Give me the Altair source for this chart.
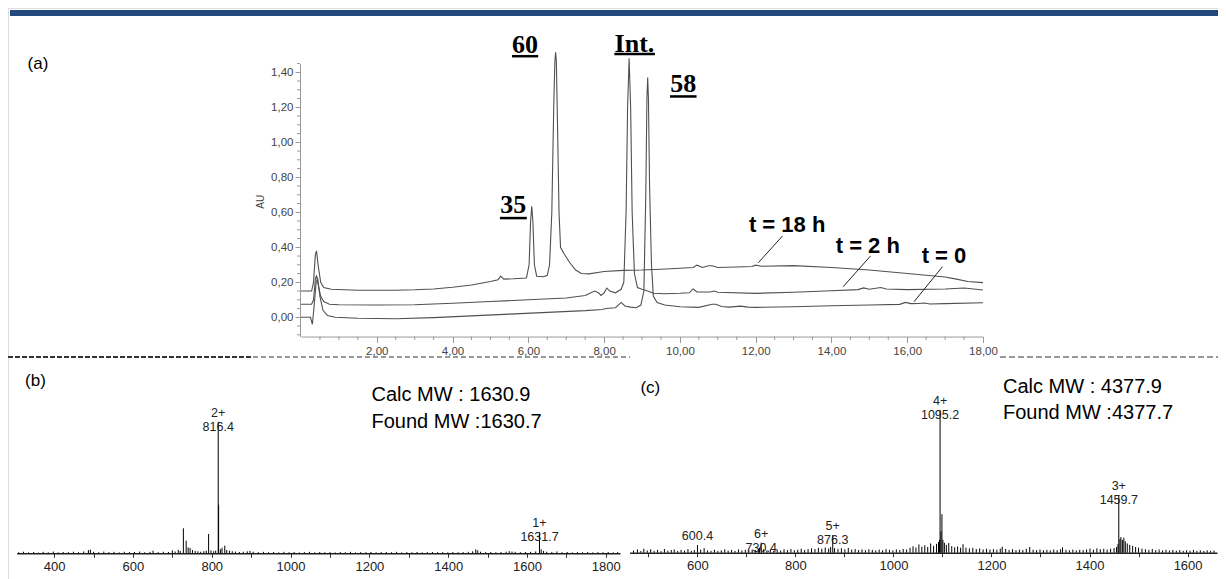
import altair as alt
import pandas as pd

# ---------------- HPLC traces: retention time (min) / absorbance (AU) ----------------
t0_t = [0.0, 0.25, 0.30, 0.34, 0.40, 0.44, 0.50, 0.58, 0.70, 0.90, 1.5, 2.5, 3.5, 4.5, 5.5, 6.5, 7.5,
        7.95, 8.05, 8.3, 8.45, 8.55, 8.7, 8.85, 8.97, 9.05, 9.10, 9.13, 9.15, 9.17, 9.20, 9.25, 9.30,
        9.40, 9.6, 10.0, 10.5, 10.85, 10.95, 11.1, 11.3, 11.6, 11.8, 12.0, 13.0, 14.0, 15.0, 15.8,
        15.95, 16.1, 16.3, 16.45, 16.6, 17.0, 18.0]
t0_v = [0.0, 0.0, -0.04, 0.05, 0.20, 0.22, 0.12, 0.04, 0.01, 0.0, -0.005, -0.008, -0.002, 0.008,
        0.018, 0.028, 0.038, 0.045, 0.05, 0.055, 0.085, 0.065, 0.058, 0.055, 0.07, 0.15, 0.7, 1.25,
        1.37, 1.25, 0.75, 0.3, 0.12, 0.085, 0.07, 0.06, 0.057, 0.075, 0.075, 0.062, 0.058, 0.064,
        0.058, 0.057, 0.06, 0.066, 0.07, 0.074, 0.085, 0.078, 0.079, 0.082, 0.076, 0.078, 0.083]

t2_t = [0.0, 0.28, 0.33, 0.38, 0.41, 0.46, 0.52, 0.60, 0.75, 1.0, 2.0, 3.0, 4.0, 5.0, 6.0, 7.0, 7.5,
        7.75, 7.85, 7.92, 8.0, 8.07, 8.15, 8.3, 8.45, 8.52, 8.58, 8.62, 8.66, 8.70, 8.74, 8.80, 8.88,
        9.0, 9.15, 9.3, 9.6, 10.0, 10.25, 10.35, 10.45, 10.8, 10.9, 11.0, 12.0, 13.0, 14.0, 14.7,
        14.85, 15.0, 15.3, 15.45, 16.0, 17.0, 17.5, 18.0]
t2_v = [0.075, 0.075, 0.10, 0.22, 0.24, 0.18, 0.12, 0.09, 0.075, 0.072, 0.07, 0.072, 0.08, 0.09,
        0.10, 0.11, 0.125, 0.15, 0.14, 0.125, 0.14, 0.167, 0.15, 0.14, 0.16, 0.2, 0.6, 1.2, 1.48,
        1.2, 0.6, 0.25, 0.17, 0.16, 0.15, 0.137, 0.135, 0.137, 0.14, 0.162, 0.145, 0.145, 0.15,
        0.143, 0.137, 0.143, 0.152, 0.158, 0.168, 0.16, 0.17, 0.162, 0.158, 0.162, 0.167, 0.156]

t18_t = [0.0, 0.28, 0.33, 0.38, 0.41, 0.45, 0.52, 0.60, 0.8, 1.5, 2.5, 3.0, 3.5, 4.0, 4.5, 5.0, 5.2,
         5.27, 5.35, 5.6, 5.95, 6.02, 6.06, 6.09, 6.12, 6.16, 6.22, 6.4, 6.5, 6.56, 6.62, 6.67, 6.70,
         6.72, 6.74, 6.77, 6.81, 6.85, 6.95, 7.1, 7.25, 7.4, 7.6, 8.0, 8.5, 9.0, 9.5, 10.0, 10.35,
         10.45, 10.6, 10.75, 10.85, 11.0, 11.5, 11.9, 12.0, 12.15, 13.0, 14.0, 15.0, 16.0, 17.0,
         17.3, 17.6, 18.0]
t18_v = [0.15, 0.15, 0.2, 0.36, 0.38, 0.30, 0.20, 0.17, 0.16, 0.155, 0.155, 0.157, 0.162, 0.172,
         0.185, 0.205, 0.215, 0.235, 0.218, 0.22, 0.225, 0.3, 0.55, 0.635, 0.55, 0.3, 0.235, 0.232,
         0.24, 0.3, 0.6, 1.2, 1.46, 1.514, 1.46, 1.1, 0.6, 0.4, 0.36, 0.31, 0.27, 0.25, 0.248,
         0.262, 0.268, 0.27, 0.275, 0.28, 0.285, 0.298, 0.285, 0.295, 0.295, 0.285, 0.287, 0.29,
         0.298, 0.292, 0.295, 0.285, 0.27, 0.25, 0.23, 0.218, 0.205, 0.198]

hplc_x_ticks = [2, 4, 6, 8, 10, 12, 14, 16, 18]
hplc_y_ticks = [0.0, 0.2, 0.4, 0.6, 0.8, 1.0, 1.2, 1.4]

# compound labels (underlined) and time labels
cmp_text = ["60", "Int.", "58", "35"]
cmp_t = [5.91, 8.80, 10.09, 5.60]
cmp_v = [1.509, 1.518, 1.289, 0.594]
cmp_ul_t1 = [5.57, 8.27, 9.74, 5.25]
cmp_ul_t2 = [6.26, 9.34, 10.44, 5.96]
cmp_ul_v = [1.492, 1.504, 1.262, 0.567]

time_text = ["t = 18 h", "t = 2 h", "t = 0"]
time_t = [12.83, 14.96, 16.97]
time_v = [0.486, 0.369, 0.309]
ptr_t1 = [12.71, 15.03, 16.93]
ptr_v1 = [0.465, 0.35, 0.289]
ptr_t2 = [12.07, 14.31, 16.18]
ptr_v2 = [0.312, 0.175, 0.089]

# ---------------- ESI-MS spectra: m/z and relative intensity (%) ----------------
spec_b = [(310, 0.8), (322, 1.2), (335, 0.7), (348, 1.0), (360, 0.6), (372, 1.1), (385, 0.8),
          (398, 1.3), (410, 0.7), (423, 1.0), (436, 0.9), (449, 1.2), (462, 0.8), (475, 1.4),
          (487, 2.4), (492, 2.8), (500, 1.1), (513, 0.8), (526, 1.3), (539, 0.9), (552, 1.1),
          (565, 0.7), (578, 1.2), (591, 0.9), (604, 1.0), (617, 1.3), (630, 0.8), (643, 1.1),
          (651, 2.0), (664, 0.9), (677, 1.2), (690, 1.0), (700, 2.2), (707, 1.4), (715, 2.6),
          (720, 1.8), (728, 19.0), (735, 9.6), (740, 4.5), (745, 4.0), (751, 2.5), (758, 1.8),
          (765, 1.5), (772, 1.2), (780, 1.6), (786, 2.0), (792, 14.7), (798, 2.2), (805, 1.6),
          (810, 2.0), (816.4, 100.0), (817.4, 37.0), (822, 3.0), (826, 4.2), (833, 5.8), (838, 2.5),
          (845, 2.0), (852, 1.6), (860, 1.3), (870, 1.0), (880, 1.2), (890, 1.5), (897, 1.8),
          (905, 1.2), (918, 0.9), (931, 1.1), (944, 0.8), (957, 1.0), (970, 0.7), (983, 1.1),
          (996, 0.8), (1009, 1.0), (1022, 0.7), (1035, 0.9), (1048, 1.1), (1061, 0.7), (1074, 1.0),
          (1087, 0.8), (1100, 0.9), (1113, 0.7), (1126, 1.0), (1139, 0.8), (1152, 1.1), (1165, 0.7),
          (1178, 0.9), (1191, 0.8), (1204, 1.0), (1217, 0.7), (1230, 0.9), (1243, 1.0), (1256, 0.8),
          (1269, 1.1), (1282, 0.7), (1295, 0.9), (1308, 0.8), (1321, 1.0), (1334, 0.7), (1347, 0.9),
          (1360, 1.0), (1373, 0.8), (1386, 0.9), (1399, 0.7), (1412, 1.0), (1425, 0.8), (1438, 0.9),
          (1451, 1.1), (1462, 1.5), (1470, 3.0), (1475, 2.2), (1482, 1.2), (1495, 0.9), (1508, 1.0),
          (1521, 0.8), (1534, 1.0), (1547, 1.2), (1555, 1.6), (1562, 1.3), (1570, 1.1), (1583, 0.9),
          (1596, 1.0), (1609, 1.1), (1622, 1.4), (1631.7, 16.0), (1636, 3.0), (1642, 1.8),
          (1650, 1.2), (1663, 1.0), (1676, 1.4), (1689, 0.8), (1702, 1.0), (1715, 0.7), (1728, 0.9),
          (1741, 0.8), (1754, 1.0), (1767, 0.7), (1780, 0.9), (1793, 0.8), (1806, 1.0), (1819, 0.7),
          (1830, 0.9)]
lab_b_mz = [816.4, 1631.7]
lab_b_int = [100.0, 16.0]
lab_b_txt = ["2+\n816.4", "1+\n1631.7"]

spec_c = [(470, 1.5), (478, 2.2), (485, 1.2), (491, 2.8), (498, 1.6), (505, 2.4), (512, 1.3),
          (519, 2.0), (526, 1.1), (533, 2.6), (540, 1.4), (547, 1.9), (553, 2.3), (560, 1.2),
          (567, 2.0), (574, 1.5), (581, 2.5), (588, 1.3), (594, 1.8), (600.4, 5.4), (607, 2.2),
          (614, 3.2), (621, 1.6), (628, 1.3), (635, 2.1), (642, 1.2), (649, 1.7), (656, 2.4),
          (663, 1.4), (670, 1.9), (677, 1.3), (684, 2.3), (691, 1.6), (698, 2.0), (705, 1.5),
          (712, 2.2), (719, 1.8), (725, 2.6), (727, 3.5), (730.4, 7.0), (735, 2.4), (742, 1.6),
          (749, 2.1), (756, 1.4), (763, 2.2), (770, 1.5), (777, 2.4), (784, 1.8), (791, 2.6),
          (798, 1.7), (805, 2.1), (812, 2.8), (819, 1.9), (826, 2.5), (833, 3.0), (840, 2.6),
          (847, 3.4), (854, 2.8), (861, 3.6), (868, 2.9), (872, 4.0), (876.3, 12.4), (880, 3.2),
          (887, 2.7), (894, 3.1), (901, 2.4), (908, 3.3), (915, 2.2), (922, 2.6), (929, 1.9),
          (936, 2.3), (943, 1.8), (950, 2.4), (957, 2.0), (964, 1.6), (971, 2.2), (978, 1.7),
          (985, 2.5), (992, 2.0), (999, 1.6), (1006, 2.3), (1013, 1.9), (1020, 2.6), (1027, 2.2),
          (1034, 3.4), (1040, 4.5), (1046, 3.6), (1052, 5.8), (1058, 4.2), (1064, 5.2), (1070, 4.0),
          (1076, 6.5), (1082, 4.8), (1088, 6.2), (1092, 7.5), (1094, 9.0), (1095.2, 100.0),
          (1097, 15.0), (1099, 27.0), (1101, 9.0), (1104, 7.0), (1108, 5.5), (1113, 6.8),
          (1119, 4.6), (1125, 3.8), (1131, 4.4), (1137, 3.5), (1142, 6.0), (1148, 3.6), (1155, 3.0),
          (1162, 3.4), (1169, 2.6), (1176, 3.0), (1183, 2.3), (1190, 2.8), (1197, 2.2), (1204, 2.5),
          (1211, 2.1), (1218, 2.9), (1222, 4.2), (1229, 2.6), (1236, 2.0), (1243, 2.4), (1250, 1.8),
          (1257, 2.2), (1264, 1.9), (1271, 2.8), (1278, 4.0), (1285, 2.1), (1292, 1.8), (1299, 2.3),
          (1306, 1.7), (1313, 2.0), (1320, 1.6), (1327, 2.2), (1334, 1.8), (1341, 2.4), (1345, 3.8),
          (1352, 2.0), (1359, 1.7), (1366, 2.2), (1373, 1.6), (1380, 2.0), (1387, 1.8), (1394, 2.3),
          (1401, 2.9), (1408, 2.1), (1415, 3.0), (1422, 2.4), (1429, 2.7), (1436, 2.2), (1443, 2.8),
          (1450, 3.2), (1455, 4.0), (1458, 6.0), (1459.7, 40.4), (1462, 9.5), (1464, 11.0),
          (1467, 9.0), (1470, 10.5), (1473, 8.0), (1477, 6.5), (1482, 5.5), (1488, 4.8), (1494, 4.0),
          (1500, 3.5), (1507, 2.8), (1514, 2.4), (1521, 2.0), (1528, 2.6), (1535, 1.8), (1542, 2.2),
          (1549, 1.6), (1556, 2.0), (1563, 1.5), (1570, 1.9), (1577, 1.4), (1584, 1.8), (1591, 1.3),
          (1598, 1.7), (1605, 1.4), (1612, 1.9), (1619, 1.3), (1626, 1.6), (1633, 1.2), (1640, 1.7),
          (1647, 1.3), (1654, 1.5)]
lab_c_mz = [600.4, 730.4, 876.3, 1095.2, 1459.7]
lab_c_int = [5.4, 7.0, 12.4, 100.0, 40.4]
lab_c_txt = ["600.4", "6+\n730.4", "5+\n876.3", "4+\n1095.2", "3+\n1459.7"]

ms_b_ticks = [400, 500, 600, 700, 800, 900, 1000, 1100, 1200, 1300, 1400, 1500, 1600, 1700, 1800]
ms_c_ticks = [500, 600, 700, 800, 900, 1000, 1100, 1200, 1300, 1400, 1500, 1600]

# ---------------- layout (canvas pixels) ----------------
W, H = 1210, 571
SANS = "Liberation Sans"
SERIF = "Liberation Serif"
LINE = "#505050"
AXG = "#9a9a9a"

xh = alt.Scale(domain=[0, 18], range=[293, 975], nice=False, zero=False)
yh = alt.Scale(domain=[-0.11, 1.45], range=[328.55, 55.55], nice=False, zero=False)
HX_AXIS_Y = 328.55
HY_AXIS_X = 292

xb = alt.Scale(domain=[305, 1836], range=[8.7, 612], nice=False, zero=False)
yb = alt.Scale(domain=[0, 100], range=[545.3, 413.7], nice=False, zero=False)
xc = alt.Scale(domain=[462, 1660], range=[621.6, 1209], nice=False, zero=False)
yc = alt.Scale(domain=[0, 100], range=[544.7, 402], nice=False, zero=False)

dummy = pd.DataFrame({"k": [0]})

hplc_df = pd.concat([
    pd.DataFrame({"t": t0_t, "v": t0_v, "trace": "t0"}),
    pd.DataFrame({"t": t2_t, "v": t2_v, "trace": "t2"}),
    pd.DataFrame({"t": t18_t, "v": t18_v, "trace": "t18"}),
])

comma = "replace(datum.label, '.', ',')"

hplc_lines = alt.Chart(hplc_df).mark_line(color=LINE, strokeWidth=1.1).encode(
    x=alt.X("t:Q", scale=xh, axis=alt.Axis(
        orient="bottom", offset=HX_AXIS_Y - H, values=hplc_x_ticks, format=".2f",
        labelExpr=comma, tickSize=6, tickColor=AXG, domainColor=AXG, grid=False, title=None,
        labelFont=SANS, labelFontSize=11.5, labelColor="#444", labelPadding=3,
        labelFlush=False, labelOverlap=False)),
    y=alt.Y("v:Q", scale=yh, axis=alt.Axis(
        orient="left", offset=-HY_AXIS_X, values=hplc_y_ticks, format=".2f",
        labelExpr=comma, tickSize=5, tickColor=AXG, domainColor=AXG, grid=False, title=None,
        labelFont=SANS, labelFontSize=11.5, labelColor="#444", labelPadding=2,
        labelFlush=False, labelOverlap=False)),
    detail="trace:N",
    order="t:Q",
)

minor_x = pd.DataFrame({"t": [h / 2 for h in range(1, 36) if h % 4 != 0]})
minor_y = pd.DataFrame({"v": [k / 20 for k in range(-2, 30) if k % 4 != 0]})

hplc_minor_x = alt.Chart(minor_x).mark_rule(color=AXG, strokeWidth=1).encode(
    x=alt.X("t:Q", scale=xh, axis=None),
    y=alt.value(HX_AXIS_Y), y2=alt.value(HX_AXIS_Y + 3.5))
hplc_minor_y = alt.Chart(minor_y).mark_rule(color=AXG, strokeWidth=1).encode(
    y=alt.Y("v:Q", scale=yh, axis=None),
    x=alt.value(HY_AXIS_X), x2=alt.value(HY_AXIS_X - 3))

cmp_df = pd.DataFrame({"lab": cmp_text, "t": cmp_t, "v": cmp_v,
                       "t1": cmp_ul_t1, "t2": cmp_ul_t2, "uv": cmp_ul_v})
cmp_labels = alt.Chart(cmp_df).mark_text(
    font=SERIF, fontSize=26, fontWeight="bold", color="black", align="center",
    baseline="alphabetic").encode(
    x=alt.X("t:Q", scale=xh, axis=None), y=alt.Y("v:Q", scale=yh, axis=None), text="lab:N")
cmp_ul = alt.Chart(cmp_df).mark_rule(color="black", strokeWidth=2.5).encode(
    x=alt.X("t1:Q", scale=xh, axis=None), x2="t2:Q", y=alt.Y("uv:Q", scale=yh, axis=None))

time_df = pd.DataFrame({"lab": time_text, "t": time_t, "v": time_v,
                        "t1": ptr_t1, "v1": ptr_v1, "t2": ptr_t2, "v2": ptr_v2})
time_labels = alt.Chart(time_df).mark_text(
    font=SANS, fontSize=22, fontWeight="bold", color="black", align="center",
    baseline="alphabetic").encode(
    x=alt.X("t:Q", scale=xh, axis=None), y=alt.Y("v:Q", scale=yh, axis=None), text="lab:N")
time_ptr = alt.Chart(time_df).mark_rule(color="#222", strokeWidth=1).encode(
    x=alt.X("t1:Q", scale=xh, axis=None), y=alt.Y("v1:Q", scale=yh, axis=None),
    x2="t2:Q", y2="v2:Q")


def ms_axis(offset, ticks):
    return alt.Axis(orient="bottom", offset=offset, values=ticks, format="d",
                    labelExpr="datum.value % 200 == 0 ? datum.label : ''",
                    tickSize=4, tickColor="#333", domainColor="#222", domainWidth=1.5,
                    grid=False, title=None, labelFont=SANS, labelFontSize=13,
                    labelColor="#222", labelPadding=3, labelFlush=False, labelOverlap=False)


spec_b_df = pd.DataFrame(spec_b, columns=["mz", "inten"])
spec_c_df = pd.DataFrame(spec_c, columns=["mz", "inten"])

ms_b = alt.Chart(spec_b_df).mark_rule(color="black", strokeWidth=1).encode(
    x=alt.X("mz:Q", scale=xb, axis=ms_axis(545.3 - H, ms_b_ticks)),
    y=alt.Y("inten:Q", scale=yb, axis=None), y2=alt.datum(0))
ms_c = alt.Chart(spec_c_df).mark_rule(color="black", strokeWidth=1).encode(
    x=alt.X("mz:Q", scale=xc, axis=ms_axis(544.7 - H, ms_c_ticks)),
    y=alt.Y("inten:Q", scale=yc, axis=None), y2=alt.datum(0))

lab_b_df = pd.DataFrame({"mz": lab_b_mz, "inten": lab_b_int, "lab": lab_b_txt})
lab_c_df = pd.DataFrame({"mz": lab_c_mz, "inten": lab_c_int, "lab": lab_c_txt})
ms_b_lab = alt.Chart(lab_b_df).mark_text(
    font=SANS, fontSize=12.5, color="#222", align="center", baseline="bottom", dy=-2,
    lineBreak="\n", lineHeight=14).encode(
    x=alt.X("mz:Q", scale=xb, axis=None), y=alt.Y("inten:Q", scale=yb, axis=None), text="lab:N")
ms_c_lab = alt.Chart(lab_c_df).mark_text(
    font=SANS, fontSize=12.5, color="#222", align="center", baseline="bottom", dy=-2,
    lineBreak="\n", lineHeight=14).encode(
    x=alt.X("mz:Q", scale=xc, axis=None), y=alt.Y("inten:Q", scale=yc, axis=None), text="lab:N")


def txt(s, x, y, size, align="center", color="black", **kw):
    return alt.Chart(dummy).mark_text(text=s, font=SANS, fontSize=size, color=color,
                                      align=align, baseline="middle", **kw).encode(
        x=alt.value(x), y=alt.value(y))


def hrule(x1, x2, y, width, dash, color="#333"):
    return alt.Chart(dummy).mark_rule(color=color, strokeWidth=width, strokeDash=dash).encode(
        x=alt.value(x1), x2=alt.value(x2), y=alt.value(y))


top_bar = alt.Chart(dummy).mark_rect(color="#23497c").encode(
    x=alt.value(2), x2=alt.value(W), y=alt.value(2), y2=alt.value(8))

decor = [
    top_bar,
    hrule(0, 245, 349, 2, [5, 2]),
    hrule(245, 622, 349, 1, [5, 3]),
    hrule(992, W, 349, 1, [6, 3]),
    txt("(a)", 30, 56, 17),
    txt("(b)", 27.5, 372.5, 17),
    txt("(c)", 642.3, 380, 17),
    txt("AU", 253, 193.7, 10, angle=270, color="#444"),
    txt("Calc MW : 1630.9", 363.5, 387, 20, align="left"),
    txt("Found MW :1630.7", 363.5, 413.7, 20, align="left"),
    txt("Calc MW : 4377.9", 995, 378.7, 20, align="left"),
    txt("Found MW :4377.7", 995, 405.3, 20, align="left"),
]

chart = alt.layer(
    hplc_lines, hplc_minor_x, hplc_minor_y, cmp_labels, cmp_ul, time_labels, time_ptr,
    ms_b, ms_c, ms_b_lab, ms_c_lab, *decor,
).resolve_scale(x="independent", y="independent").properties(
    width=W, height=H, padding=0,
    autosize=alt.AutoSizeParams(type="none"),
).configure_view(stroke=None).configure(background="white")

chart.save("out.html", embed_options={"renderer": "svg", "actions": False})
